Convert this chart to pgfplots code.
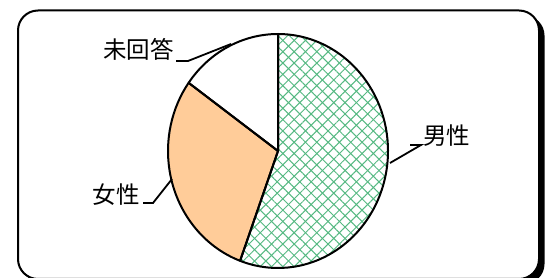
\documentclass[border=0pt]{standalone}
\usepackage{pgfplots}
\pgfplotsset{compat=1.18}
\usepackage{pgfplotstable}
\usepackage{fontspec}
\newfontfamily\jp{Noto Sans CJK JP}
\usetikzlibrary{patterns.meta}
\definecolor{mgreen}{RGB}{85,185,130}
\definecolor{peach}{RGB}{255,204,153}

% share (%) of each answer: male, female, no answer
\pgfplotstableread{
idx value
0 55.6
1 29.3
2 15.1
}\piedata

\begin{document}
\begin{tikzpicture}[x=1pt,y=1pt]
\pgfplotstablegetelem{0}{value}\of\piedata \let\vA\pgfplotsretval
\pgfplotstablegetelem{1}{value}\of\piedata \let\vB\pgfplotsretval
\pgfplotstablegetelem{2}{value}\of\piedata \let\vC\pgfplotsretval
\pgfmathsetmacro\tot{\vA+\vB+\vC}
\pgfmathsetmacro\aA{90}
\pgfmathsetmacro\aB{\aA-360*(\vA/\tot)}
\pgfmathsetmacro\aC{\aB-360*(\vB/\tot)}
\pgfmathsetmacro\aD{\aC-360*(\vC/\tot)}
\useasboundingbox (0,0) rectangle (546,278);
\begin{scope}
\clip (0,0) rectangle (546,278);
\fill[black, rounded corners=20pt] (23,-6) rectangle (544.5,262.5);
\draw[line width=2pt, fill=white, rounded corners=20pt] (18,-1) rectangle (539,267.5);
\end{scope}
\begin{axis}[at={(0,0)}, anchor=south west, x=1pt, y=1pt,
  xmin=0, xmax=546, ymin=0, ymax=278, hide axis, clip=false]
% male slice: green diamond pattern
\fill[pattern={Lines[angle=45,distance=8pt,line width=1pt]}, pattern color=mgreen]
  (axis cs:278,127) -- ++(\aA:110pt and 117pt) arc[start angle=\aA, end angle=\aB, x radius=110pt, y radius=117pt] -- cycle;
\fill[pattern={Lines[angle=-45,distance=8pt,line width=1pt]}, pattern color=mgreen]
  (axis cs:278,127) -- ++(\aA:110pt and 117pt) arc[start angle=\aA, end angle=\aB, x radius=110pt, y radius=117pt] -- cycle;
% female slice
\fill[peach]
  (axis cs:278,127) -- ++(\aB:110pt and 117pt) arc[start angle=\aB, end angle=\aC, x radius=110pt, y radius=117pt] -- cycle;
% no answer slice
\fill[white]
  (axis cs:278,127) -- ++(\aC:110pt and 117pt) arc[start angle=\aC, end angle=\aD, x radius=110pt, y radius=117pt] -- cycle;
% outlines
\draw[line width=2pt, line join=round]
  (axis cs:278,127) -- ++(\aA:110pt and 117pt) arc[start angle=\aA, end angle=\aB, x radius=110pt, y radius=117pt] -- cycle;
\draw[line width=2pt, line join=round]
  (axis cs:278,127) -- ++(\aB:110pt and 117pt) arc[start angle=\aB, end angle=\aC, x radius=110pt, y radius=117pt] -- cycle;
\draw[line width=2pt, line join=round]
  (axis cs:278,127) -- ++(\aC:110pt and 117pt) arc[start angle=\aC, end angle=\aD, x radius=110pt, y radius=117pt] -- cycle;
% leader lines
\draw[line width=1.8pt] (axis cs:176,217) -- (axis cs:188,217) -- (axis cs:231,234);
\draw[line width=1.8pt] (axis cs:143,75) -- (axis cs:153,75) -- (axis cs:172,99);
\draw[line width=1.8pt] (axis cs:410,133) -- (axis cs:421,133) -- (axis cs:390,115);
% labels
\node[anchor=base east, inner sep=0pt, font=\jp\fontsize{23.5}{28}\selectfont] at (axis cs:174,219.5) {未回答};
\node[anchor=base east, inner sep=0pt, font=\jp\fontsize{23.5}{28}\selectfont] at (axis cs:140,74.5) {女性};
\node[anchor=base west, inner sep=0pt, font=\jp\fontsize{23.5}{28}\selectfont] at (axis cs:423,133) {男性};
\end{axis}
\end{tikzpicture}
\end{document}
